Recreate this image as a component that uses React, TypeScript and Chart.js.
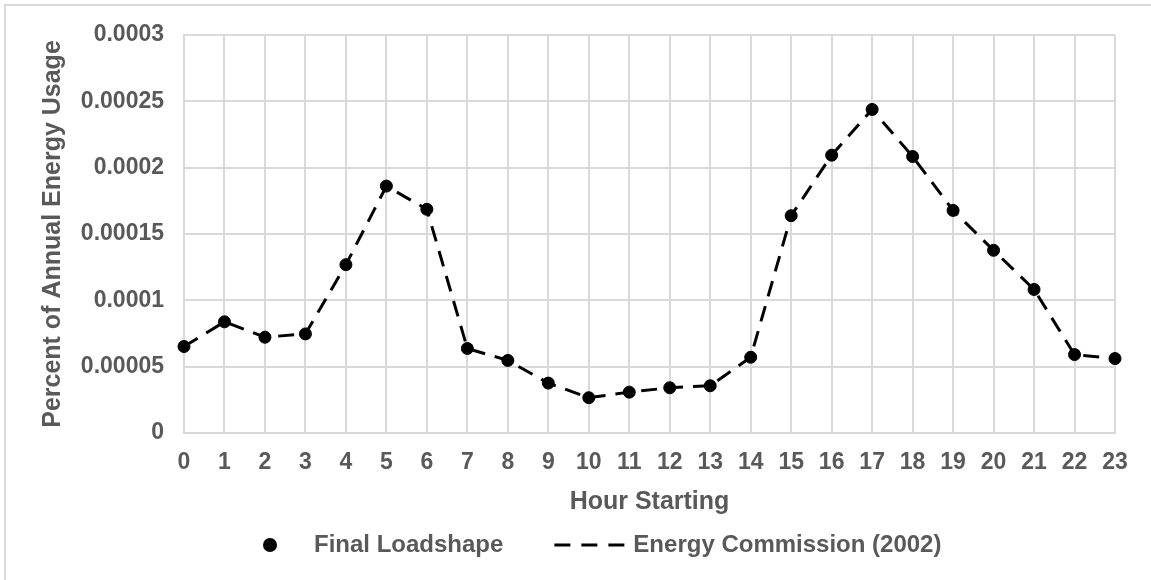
import React, { useEffect, useRef } from 'react';
import { Chart, registerables } from 'chart.js';

Chart.register(...registerables);

const hours = ['0', '1', '2', '3', '4', '5', '6', '7', '8', '9', '10', '11', '12', '13', '14', '15', '16', '17', '18', '19', '20', '21', '22', '23'];

const finalLoadshape = [
  0.0000652, 0.0000838, 0.0000722, 0.0000747, 0.0001269, 0.0001861, 0.0001686, 0.0000637,
  0.0000547, 0.0000376, 0.0000266, 0.0000308, 0.0000341, 0.0000356, 0.0000571, 0.0001638,
  0.0002094, 0.0002439, 0.0002084, 0.0001678, 0.0001377, 0.0001082, 0.0000591, 0.0000561,
];

const energyCommission2002 = [
  0.0000652, 0.0000838, 0.0000722, 0.0000747, 0.0001269, 0.0001861, 0.0001686, 0.0000637,
  0.0000547, 0.0000376, 0.0000266, 0.0000308, 0.0000341, 0.0000356, 0.0000571, 0.0001638,
  0.0002094, 0.0002439, 0.0002084, 0.0001678, 0.0001377, 0.0001082, 0.0000591, 0.0000561,
];

const yTickLabels = ['0', '0.00005', '0.0001', '0.00015', '0.0002', '0.00025', '0.0003'];
const seriesNames = ['Final Loadshape', 'Energy Commission (2002)'];
const xAxisTitle = 'Hour Starting';
const yAxisTitle = 'Percent of Annual Energy Usage';

const FONT = "'Liberation Sans', Arial, sans-serif";
const TEXT = '#595959';
const GRID = '#d9d9d9';

export default function App() {
  const ref = useRef<HTMLCanvasElement>(null);

  useEffect(() => {
    const canvas = ref.current;
    if (!canvas) return;

    const circleImg = document.createElement('canvas');
    circleImg.width = 64;
    circleImg.height = 20;
    const c1 = circleImg.getContext('2d')!;
    c1.fillStyle = '#000';
    c1.beginPath();
    c1.arc(49, 10, 7, 0, Math.PI * 2);
    c1.fill();

    const lineImg = document.createElement('canvas');
    lineImg.width = 128;
    lineImg.height = 20;
    const c2 = lineImg.getContext('2d')!;
    c2.strokeStyle = '#000';
    c2.lineWidth = 3;
    c2.setLineDash([16, 11]);
    c2.beginPath();
    c2.moveTo(46, 10);
    c2.lineTo(116, 10);
    c2.stroke();

    const chart = new Chart(canvas, {
      type: 'line',
      data: {
        labels: hours,
        datasets: [
          {
            label: seriesNames[0],
            data: finalLoadshape,
            showLine: false,
            pointRadius: 6,
            pointBorderWidth: 1,
            pointBackgroundColor: '#000',
            pointBorderColor: '#000',
            borderColor: '#000',
            backgroundColor: '#000',
            clip: false,
            order: 0,
          },
          {
            label: seriesNames[1],
            data: energyCommission2002,
            borderColor: '#000',
            backgroundColor: '#000',
            borderWidth: 3,
            borderDash: [16, 10],
            pointRadius: 0,
            tension: 0,
            fill: false,
            clip: false,
            order: 1,
          },
        ],
      },
      options: {
        responsive: false,
        animation: false,
        devicePixelRatio: 1,
        layout: { padding: { top: 35, right: 36, bottom: 13, left: 0 } },
        plugins: {
          tooltip: { enabled: false },
          legend: {
            position: 'bottom',
            align: 'start',
            fullSize: false,
            labels: {
              usePointStyle: true,
              pointStyleWidth: 98,
              boxWidth: 98,
              padding: 20,
              color: TEXT,
              font: { family: FONT, size: 24, weight: 'bold' },
              generateLabels: () => [
                {
                  text: seriesNames[0],
                  pointStyle: circleImg,
                  fillStyle: '#000',
                  strokeStyle: '#000',
                  lineWidth: 0,
                  hidden: false,
                  datasetIndex: 0,
                  fontColor: TEXT,
                },
                {
                  text: seriesNames[1],
                  pointStyle: lineImg,
                  fillStyle: '#000',
                  strokeStyle: '#000',
                  lineWidth: 0,
                  hidden: false,
                  datasetIndex: 1,
                  fontColor: TEXT,
                },
              ],
            },
          },
        },
        scales: {
          x: {
            type: 'category',
            offset: false,
            grid: { color: GRID, lineWidth: 2, drawTicks: false },
            border: { color: GRID, width: 2 },
            ticks: {
              padding: 16,
              color: TEXT,
              autoSkip: false,
              maxRotation: 0,
              font: { family: FONT, size: 23, weight: 'bold' },
            },
            title: {
              display: true,
              text: xAxisTitle,
              color: TEXT,
              font: { family: FONT, size: 25, weight: 'bold' },
              padding: { top: -5.6, bottom: -4 },
            },
          },
          y: {
            min: 0,
            max: 0.0003,
            grid: { color: GRID, lineWidth: 2, drawTicks: false },
            border: { color: GRID, width: 2 },
            ticks: {
              stepSize: 0.00005,
              padding: 20,
              color: TEXT,
              font: { family: FONT, size: 23, weight: 'bold' },
              callback: (_v: any, i: number) => yTickLabels[i],
            },
            title: {
              display: true,
              text: yAxisTitle,
              color: TEXT,
              font: { family: FONT, size: 25, weight: 'bold' },
              padding: { top: 38, bottom: 0 },
            },
            afterFit: (s: any) => {
              s.width = 184;
            },
          },
        },
      },
    } as any);

    return () => chart.destroy();
  }, []);

  return (
    <div style={{ position: 'fixed', left: 0, top: 0, width: 1151, height: 580, background: '#fff', overflow: 'hidden' }}>
      <div
        style={{
          position: 'absolute',
          left: 4,
          top: 4,
          right: -10,
          bottom: -10,
          borderLeft: `2px solid ${GRID}`,
          borderTop: `2px solid ${GRID}`,
        }}
      />
      <canvas ref={ref} width={1151} height={580} style={{ position: 'absolute', left: 0, top: 0 }} />
    </div>
  );
}
